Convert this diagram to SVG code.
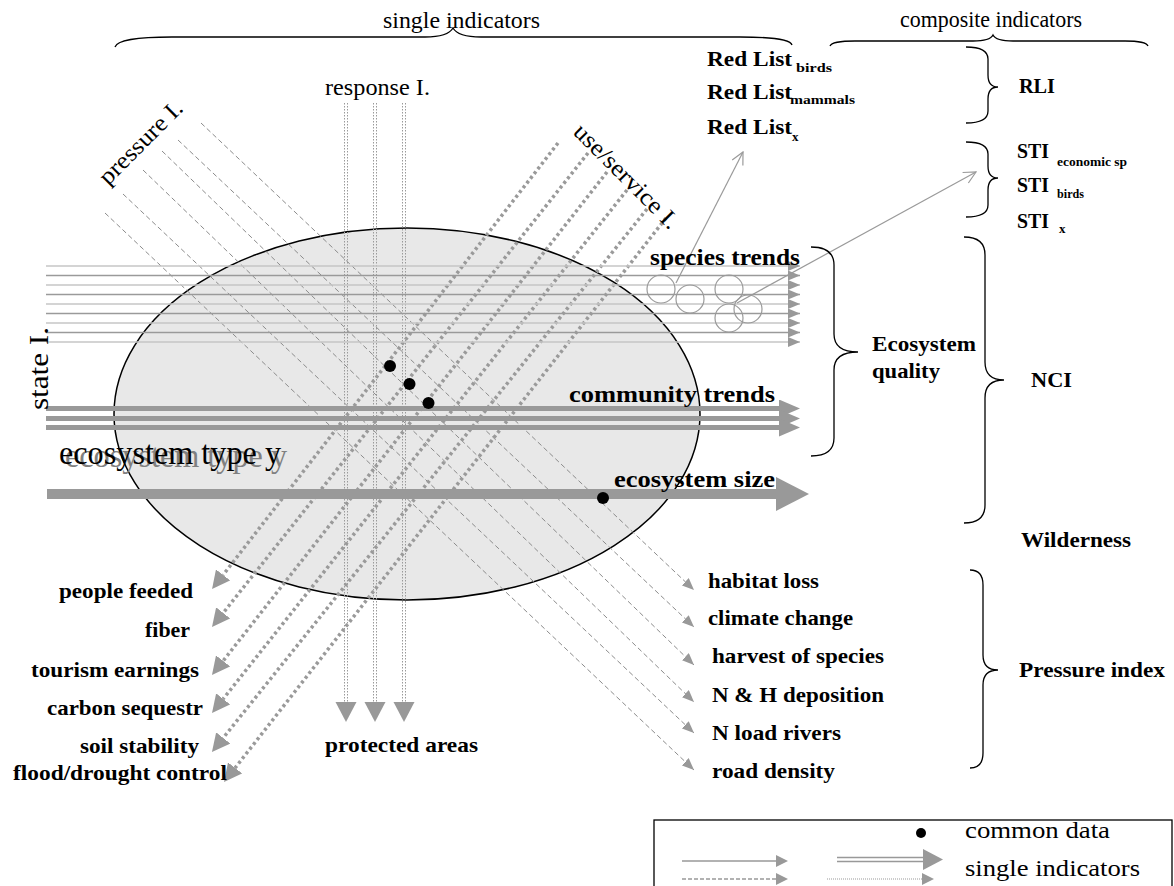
<svg xmlns="http://www.w3.org/2000/svg" width="1174" height="886" viewBox="0 0 1174 886">
<defs>
<style>
.t{font-family:"Liberation Serif","Times New Roman",serif;fill:#000}
.r{font-size:24px}
.b{font-size:24px;font-weight:bold}
.rl{font-size:22px;font-weight:bold}
.s{font-size:13px;font-weight:bold}
.brace{fill:none;stroke:#000;stroke-width:1.3}
.sl{stroke-width:1.5;fill:none}
.l1{stroke:#c6c6c6}
.l2{stroke:#9a9a9a}
.pr{stroke:#8c8c8c;stroke-width:1;stroke-dasharray:5 3;fill:none}
.us{stroke:#9a9a9a;stroke-width:3.5;stroke-dasharray:3 3;fill:none}
.rs{stroke:#9a9a9a;stroke-width:1;stroke-dasharray:1.5 1.5}
.cm{stroke:#999;stroke-width:5}
.circ{fill:none;stroke:#9a9a9a;stroke-width:1.2}
.gl{stroke:#9a9a9a;stroke-width:1.2;fill:none}
.ah{fill:#999}
</style>
<marker id="mPr" markerUnits="userSpaceOnUse" viewBox="0 -5 12 10" refX="12" refY="0" markerWidth="12" markerHeight="10" orient="auto"><path d="M0,-5 L12,0 L0,5 Z" fill="#999"/></marker>
<marker id="mSt" markerUnits="userSpaceOnUse" viewBox="0 -5 12 10" refX="12" refY="0" markerWidth="12" markerHeight="10" orient="auto"><path d="M0,-5 L12,0 L0,5 Z" fill="#999"/></marker>
<marker id="mUs" markerUnits="userSpaceOnUse" viewBox="0 -9 18 18" refX="0" refY="0" markerWidth="18" markerHeight="18" orient="auto"><path d="M0,-9 L18,0 L0,9 Z" fill="#999"/></marker>
<marker id="mCm" markerUnits="userSpaceOnUse" viewBox="0 -9 21 18" refX="0" refY="0" markerWidth="21" markerHeight="18" orient="auto"><path d="M0,-9 L21,0 L0,9 Z" fill="#999"/></marker>
<marker id="mEs" markerUnits="userSpaceOnUse" viewBox="0 -17 33 34" refX="0" refY="0" markerWidth="33" markerHeight="34" orient="auto"><path d="M0,-17 L33,0 L0,17 Z" fill="#999"/></marker>
<marker id="mOpen" markerUnits="userSpaceOnUse" viewBox="-1 -7 14 14" refX="12" refY="0" markerWidth="14" markerHeight="14" orient="auto"><path d="M0,-6 L12,0 L0,6" fill="none" stroke="#9a9a9a" stroke-width="1.2"/></marker>
<marker id="mLg" markerUnits="userSpaceOnUse" viewBox="0 -6 12 12" refX="0" refY="0" markerWidth="12" markerHeight="12" orient="auto"><path d="M0,-6 L12,0 L0,6 Z" fill="#999"/></marker>
</defs>

<g id="ecosystem">
<ellipse cx="407" cy="414" rx="293" ry="186" fill="#e8e8e8" stroke="#000" stroke-width="1.5"/>
</g>

<g id="connectors">
<line class="pr" x1="201" y1="123" x2="694" y2="590" marker-end="url(#mPr)"/>
<line class="pr" x1="178" y1="140" x2="694" y2="627" marker-end="url(#mPr)"/>
<line class="pr" x1="162" y1="151" x2="694" y2="665" marker-end="url(#mPr)"/>
<line class="pr" x1="143" y1="170" x2="694" y2="702" marker-end="url(#mPr)"/>
<line class="pr" x1="123" y1="194" x2="694" y2="733" marker-end="url(#mPr)"/>
<line class="pr" x1="105" y1="213" x2="694" y2="770" marker-end="url(#mPr)"/>
<line class="rs" x1="344.5" y1="103" x2="344.5" y2="703"/>
<line class="rs" x1="347.5" y1="103" x2="347.5" y2="703"/>
<line class="rs" x1="373.5" y1="103" x2="373.5" y2="703"/>
<line class="rs" x1="376.5" y1="103" x2="376.5" y2="703"/>
<line class="rs" x1="402.5" y1="103" x2="402.5" y2="703"/>
<line class="rs" x1="405.5" y1="103" x2="405.5" y2="703"/>
<polygon class="ah" points="335.5,702 356.5,702 346,722"/>
<polygon class="ah" points="364.5,702 385.5,702 375,722"/>
<polygon class="ah" points="393.5,702 414.5,702 404,722"/>
<line class="us" x1="558" y1="143" x2="223.1" y2="574.9" marker-end="url(#mUs)"/>
<line class="us" x1="588" y1="153" x2="223.2" y2="612.9" marker-end="url(#mUs)"/>
<line class="us" x1="607" y1="172" x2="223.1" y2="660.9" marker-end="url(#mUs)"/>
<line class="us" x1="627" y1="190" x2="223.2" y2="698.9" marker-end="url(#mUs)"/>
<line class="us" x1="647" y1="209" x2="223.2" y2="737.9" marker-end="url(#mUs)"/>
<line class="us" x1="666" y1="218" x2="235.1" y2="767.9" marker-end="url(#mUs)"/>
<line class="sl l1" x1="46" y1="266" x2="800" y2="266" marker-end="url(#mSt)"/>
<line class="sl l2" x1="46" y1="275.5" x2="800" y2="275.5" marker-end="url(#mSt)"/>
<line class="sl l1" x1="46" y1="285" x2="800" y2="285" marker-end="url(#mSt)"/>
<line class="sl l2" x1="46" y1="294.5" x2="800" y2="294.5" marker-end="url(#mSt)"/>
<line class="sl l1" x1="46" y1="304" x2="800" y2="304" marker-end="url(#mSt)"/>
<line class="sl l2" x1="46" y1="313.5" x2="800" y2="313.5" marker-end="url(#mSt)"/>
<line class="sl l1" x1="46" y1="323" x2="800" y2="323" marker-end="url(#mSt)"/>
<line class="sl l2" x1="46" y1="332.5" x2="800" y2="332.5" marker-end="url(#mSt)"/>
<line class="sl l1" x1="46" y1="342" x2="800" y2="342" marker-end="url(#mSt)"/>
<line class="cm" x1="46" y1="408.5" x2="779" y2="408.5" marker-end="url(#mCm)"/>
<line class="cm" x1="46" y1="418.5" x2="779" y2="418.5" marker-end="url(#mCm)"/>
<line class="cm" x1="46" y1="427.5" x2="779" y2="427.5" marker-end="url(#mCm)"/>
<line x1="47" y1="494" x2="776" y2="494" stroke="#999" stroke-width="10" marker-end="url(#mEs)"/>
<circle class="circ" cx="661" cy="289" r="14"/>
<circle class="circ" cx="690" cy="299" r="14"/>
<circle class="circ" cx="729" cy="289" r="14"/>
<circle class="circ" cx="748" cy="309" r="14"/>
<circle class="circ" cx="729" cy="318" r="14"/>
<line class="gl" x1="676" y1="283" x2="743" y2="152" marker-end="url(#mOpen)"/>
<line class="gl" x1="737" y1="303" x2="976" y2="172" marker-end="url(#mOpen)"/>
<circle cx="390" cy="366" r="6" fill="#000"/>
<circle cx="409.5" cy="384" r="6" fill="#000"/>
<circle cx="428.5" cy="403" r="6" fill="#000"/>
<circle cx="603" cy="498" r="6" fill="#000"/>
<path class="brace" d="M115,47 Q118,37 172,37 L425,37 Q448,37 453,28 Q458,37 481,37 L740,37 Q790,37 792,45"/>
<path class="brace" d="M830,46 Q832,41 855,41 L973,41 Q990,41 993,35 Q996,41 1013,41 L1125,41 Q1146,41 1148,46"/>
<path class="brace" d="M966,47 Q988,47 988,59 L988,75 Q988,87 998,87 Q988,87 988,99 L988,111 Q988,123 966,123"/>
<path class="brace" d="M966,142 Q988,142 988,154 L988,166 Q988,178 998,178 Q988,178 988,190 L988,205 Q988,217 966,217"/>
<path class="brace" d="M811,247 Q834,247 834,265 L834,334 Q834,352 858,352 Q834,352 834,370 L834,438 Q834,456 811,456"/>
<path class="brace" d="M964,237 Q985,237 985,255 L985,362 Q985,380 1004,380 Q985,380 985,398 L985,505 Q985,523 964,523"/>
<path class="brace" d="M970,570 Q983,570 983,585 L983,655 Q983,670 998,670 Q983,670 983,685 L983,753 Q983,768 970,768"/>
</g>

<g id="axis-labels">
<text class="t r" x="383" y="28" textLength="157" lengthAdjust="spacingAndGlyphs">single indicators</text>
<text class="t r" x="900" y="27" textLength="182" lengthAdjust="spacingAndGlyphs">composite indicators</text>
<text class="t r" x="325" y="95" textLength="105" lengthAdjust="spacingAndGlyphs">response I.</text>
<text class="t r" transform="translate(108,186) rotate(-45)" textLength="108" lengthAdjust="spacingAndGlyphs">pressure I.</text>
<text class="t r" transform="translate(572,133) rotate(45)" textLength="138" lengthAdjust="spacingAndGlyphs">use/service I.</text>
<text class="t" font-size="28" transform="translate(48,410) rotate(-90)" textLength="83" lengthAdjust="spacingAndGlyphs">state I.</text>
</g>

<g id="ecosystem-type">
<text class="t" x="65" y="467" font-size="34" style="fill:#808080" textLength="222" lengthAdjust="spacingAndGlyphs">ecosystem type y</text>
<text class="t" x="59" y="464" font-size="34" textLength="222" lengthAdjust="spacingAndGlyphs">ecosystem type y</text>
</g>

<g id="red-list">
<text class="t rl" x="707" y="66" textLength="85" lengthAdjust="spacingAndGlyphs">Red List</text>
<text class="t s" x="796" y="72" textLength="36" lengthAdjust="spacingAndGlyphs">birds</text>
<text class="t rl" x="707" y="99" textLength="85" lengthAdjust="spacingAndGlyphs">Red List</text>
<text class="t s" x="790" y="104" textLength="65" lengthAdjust="spacingAndGlyphs">mammals</text>
<text class="t rl" x="707" y="134" textLength="85" lengthAdjust="spacingAndGlyphs">Red List</text>
<text class="t s" x="792" y="141">x</text>
</g>
<g id="rli"><text class="t rl" x="1019" y="93" textLength="36" lengthAdjust="spacingAndGlyphs">RLI</text></g>
<g id="sti">
<text class="t rl" x="1017" y="158" textLength="32" lengthAdjust="spacingAndGlyphs">STI</text>
<text class="t s" x="1057" y="166" textLength="70" lengthAdjust="spacingAndGlyphs">economic sp</text>
<text class="t rl" x="1017" y="192" textLength="32" lengthAdjust="spacingAndGlyphs">STI</text>
<text class="t s" x="1057" y="198" textLength="27" lengthAdjust="spacingAndGlyphs">birds</text>
<text class="t rl" x="1017" y="228" textLength="32" lengthAdjust="spacingAndGlyphs">STI</text>
<text class="t s" x="1059" y="233">x</text>
</g>
<g id="species-trends"><text class="t b" x="650" y="265" textLength="150" lengthAdjust="spacingAndGlyphs">species trends</text></g>
<g id="community-trends"><text class="t b" x="569" y="402" textLength="206" lengthAdjust="spacingAndGlyphs">community trends</text></g>
<g id="ecosystem-size"><text class="t b" x="614" y="487" textLength="161" lengthAdjust="spacingAndGlyphs">ecosystem size</text></g>
<g id="ecosystem-quality">
<text class="t rl" x="872" y="351" textLength="104" lengthAdjust="spacingAndGlyphs">Ecosystem</text>
<text class="t rl" x="872" y="378" textLength="68" lengthAdjust="spacingAndGlyphs">quality</text>
</g>
<g id="nci"><text class="t rl" x="1031" y="387" textLength="41" lengthAdjust="spacingAndGlyphs">NCI</text></g>
<g id="wilderness"><text class="t rl" x="1021" y="547" textLength="110" lengthAdjust="spacingAndGlyphs">Wilderness</text></g>
<g id="pressure-index"><text class="t rl" x="1019" y="677" textLength="146" lengthAdjust="spacingAndGlyphs">Pressure index</text></g>
<g id="pressures">
<text class="t rl" x="708" y="588" textLength="111" lengthAdjust="spacingAndGlyphs">habitat loss</text>
<text class="t rl" x="708" y="625" textLength="145" lengthAdjust="spacingAndGlyphs">climate change</text>
<text class="t rl" x="712" y="663" textLength="172" lengthAdjust="spacingAndGlyphs">harvest of species</text>
<text class="t rl" x="712" y="702" textLength="172" lengthAdjust="spacingAndGlyphs">N &amp; H deposition</text>
<text class="t rl" x="712" y="740" textLength="129" lengthAdjust="spacingAndGlyphs">N load rivers</text>
<text class="t rl" x="712" y="778" textLength="123" lengthAdjust="spacingAndGlyphs">road density</text>
</g>
<g id="uses">
<text class="t rl" x="59" y="598" textLength="134" lengthAdjust="spacingAndGlyphs">people feeded</text>
<text class="t rl" x="145" y="637" textLength="45" lengthAdjust="spacingAndGlyphs">fiber</text>
<text class="t rl" x="31" y="677" textLength="168" lengthAdjust="spacingAndGlyphs">tourism earnings</text>
<text class="t rl" x="47" y="715" textLength="156" lengthAdjust="spacingAndGlyphs">carbon sequestr</text>
<text class="t rl" x="80" y="753" textLength="119" lengthAdjust="spacingAndGlyphs">soil stability</text>
<text class="t rl" x="13" y="780" textLength="214" lengthAdjust="spacingAndGlyphs">flood/drought control</text>
</g>
<g id="protected-areas"><text class="t rl" x="325" y="752" textLength="153" lengthAdjust="spacingAndGlyphs">protected areas</text></g>

<g id="legend">
<rect x="654" y="820" width="518" height="80" fill="none" stroke="#000" stroke-width="1.3"/>
<circle cx="921" cy="833" r="5" fill="#000"/>
<text class="t r" x="965" y="838" textLength="145" lengthAdjust="spacingAndGlyphs">common data</text>
<text class="t r" x="965" y="876" textLength="175" lengthAdjust="spacingAndGlyphs">single indicators</text>
<line x1="682" y1="861" x2="776" y2="861" stroke="#999" stroke-width="1.3" marker-end="url(#mLg)"/>
<line x1="682" y1="879" x2="776" y2="879" stroke="#999" stroke-width="1.3" stroke-dasharray="4 2" marker-end="url(#mLg)"/>
<line x1="837" y1="857.5" x2="924" y2="857.5" stroke="#999" stroke-width="1.5"/>
<line x1="837" y1="861.5" x2="924" y2="861.5" stroke="#999" stroke-width="1.5"/>
<polygon class="ah" points="923,849 943,859.5 923,870"/>
<line x1="827" y1="879" x2="922" y2="879" stroke="#999" stroke-width="1" stroke-dasharray="1 1"/>
<polygon class="ah" points="922,873 934,879 922,885"/>
</g>
</svg>
